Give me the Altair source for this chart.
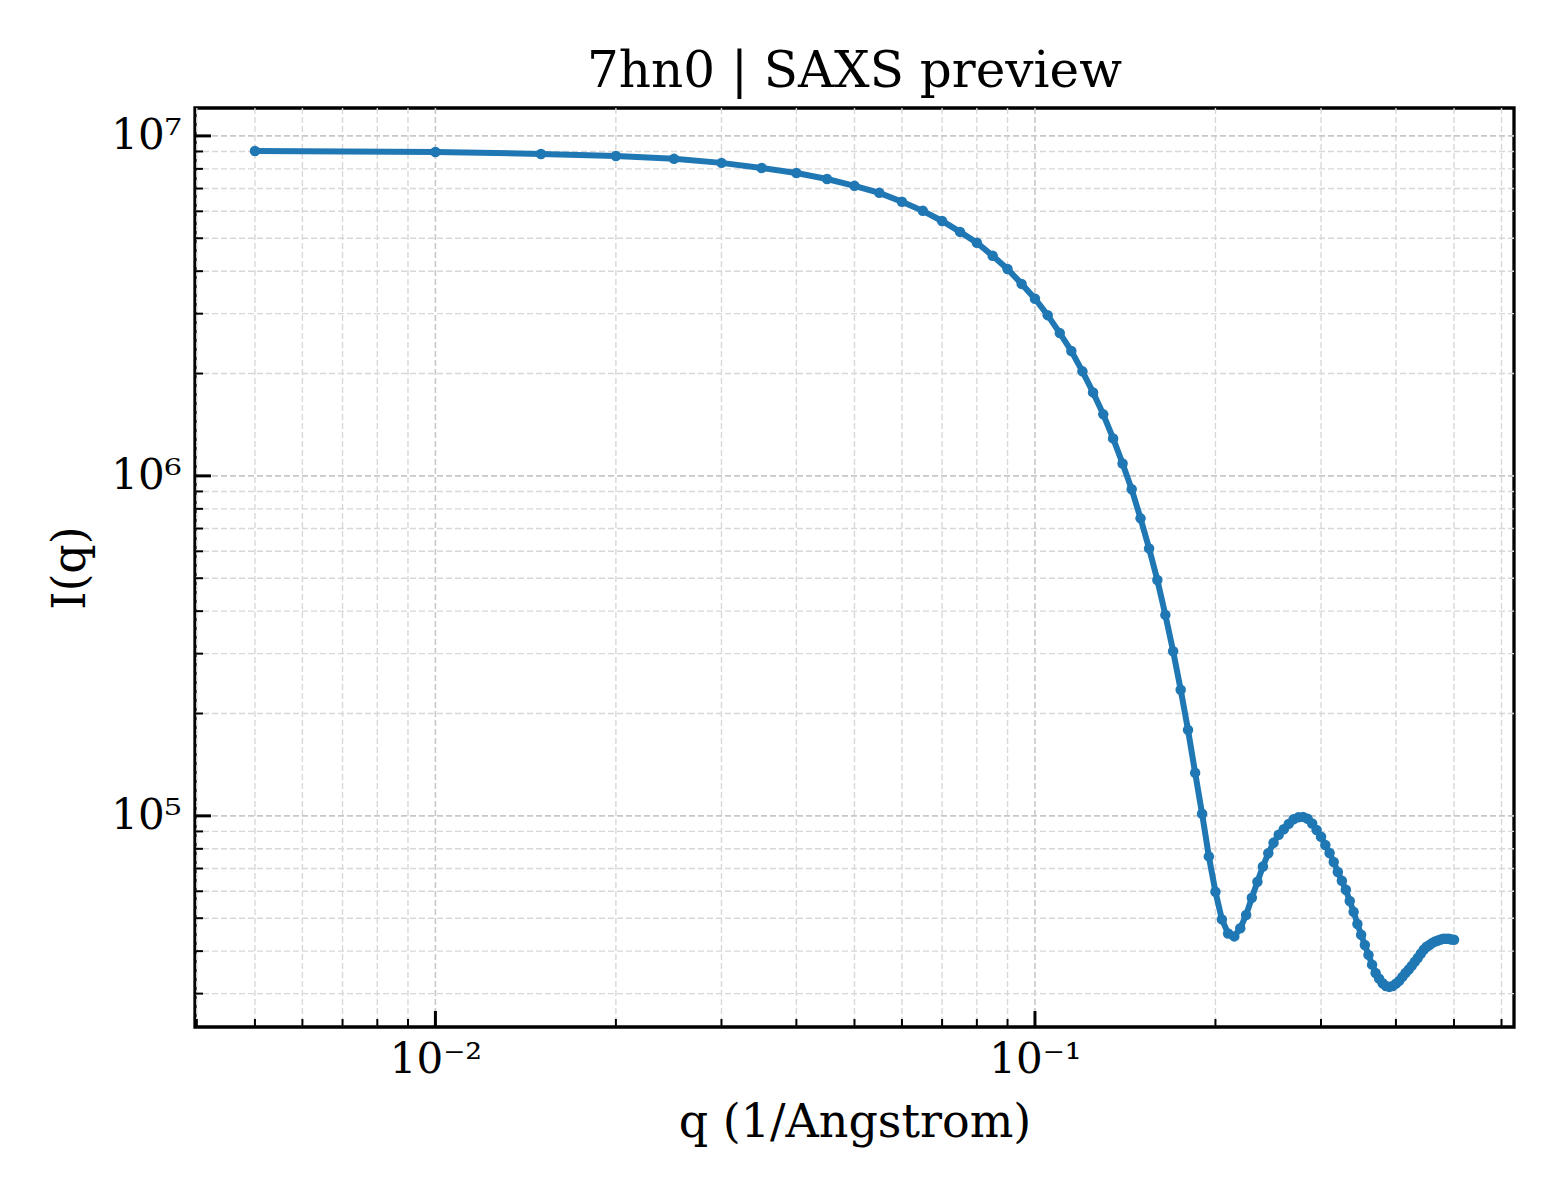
import altair as alt
import pandas as pd

# scattering vector q (1/Angstrom)
q = [0.005, 0.010, 0.015, 0.020, 0.025, 0.030, 0.035, 0.040, 0.045, 0.050,
     0.055, 0.060, 0.065, 0.070, 0.075, 0.080, 0.085, 0.090, 0.095, 0.100,
     0.105, 0.110, 0.115, 0.120, 0.125, 0.130, 0.135, 0.140, 0.145, 0.150,
     0.155, 0.160, 0.165, 0.170, 0.175, 0.180, 0.185, 0.190, 0.195, 0.200,
     0.205, 0.210, 0.215, 0.220, 0.225, 0.230, 0.235, 0.240, 0.245, 0.250,
     0.255, 0.260, 0.265, 0.270, 0.275, 0.280, 0.285, 0.290, 0.295, 0.300,
     0.305, 0.310, 0.315, 0.320, 0.325, 0.330, 0.335, 0.340, 0.345, 0.350,
     0.355, 0.360, 0.365, 0.370, 0.375, 0.380, 0.385, 0.390, 0.395, 0.400,
     0.405, 0.410, 0.415, 0.420, 0.425, 0.430, 0.435, 0.440, 0.445, 0.450,
     0.455, 0.460, 0.465, 0.470, 0.475, 0.480, 0.485, 0.490, 0.495, 0.500]

# intensity I(q)
intensity = [9.03e6, 8.97e6, 8.85e6, 8.73e6, 8.56e6, 8.33e6, 8.05e6, 7.78e6, 7.47e6, 7.13e6,
             6.80e6, 6.40e6, 6.02e6, 5.62e6, 5.22e6, 4.85e6, 4.44e6, 4.06e6, 3.67e6, 3.32e6,
             2.97e6, 2.63e6, 2.33e6, 2.03e6, 1.76e6, 1.517e6, 1.289e6, 1.088e6, 9.13e5, 7.50e5,
             6.12e5, 4.94e5, 3.90e5, 3.05e5, 2.35e5, 1.79e5, 1.338e5, 1.014e5, 7.60e4, 5.98e4,
             4.96e4, 4.51e4, 4.42e4, 4.67e4, 5.11e4, 5.74e4, 6.40e4, 7.10e4, 7.76e4, 8.33e4,
             8.80e4, 9.13e4, 9.47e4, 9.77e4, 9.90e4, 9.93e4, 9.80e4, 9.50e4, 9.09e4, 8.68e4,
             8.21e4, 7.78e4, 7.32e4, 6.84e4, 6.44e4, 6.06e4, 5.62e4, 5.22e4, 4.81e4, 4.47e4,
             4.17e4, 3.90e4, 3.65e4, 3.45e4, 3.32e4, 3.22e4, 3.16e4, 3.14e4, 3.16e4, 3.21e4,
             3.27e4, 3.36e4, 3.45e4, 3.53e4, 3.62e4, 3.72e4, 3.82e4, 3.93e4, 4.04e4, 4.12e4,
             4.17e4, 4.23e4, 4.27e4, 4.30e4, 4.33e4, 4.35e4, 4.35e4, 4.35e4, 4.33e4, 4.32e4]

# tick positions and labels
x_major = [0.01, 0.1]
x_major_labels = ['10⁻²', '10⁻¹']
x_minor = [0.004, 0.005, 0.006, 0.007, 0.008, 0.009,
           0.02, 0.03, 0.04, 0.05, 0.06, 0.07, 0.08, 0.09,
           0.2, 0.3, 0.4, 0.5, 0.6]
y_major = [1e5, 1e6, 1e7]
y_major_labels = ['10⁵', '10⁶', '10⁷']
y_minor = [3e4, 4e4, 5e4, 6e4, 7e4, 8e4, 9e4,
           2e5, 3e5, 4e5, 5e5, 6e5, 7e5, 8e5, 9e5,
           2e6, 3e6, 4e6, 5e6, 6e6, 7e6, 8e6, 9e6]

x_domain = [0.003972, 0.6295]
y_domain = [23930, 1.208e7]

W, H = 1319, 919
FONT = 'DejaVu Serif'
BLUE = '#1f77b4'


def label_expr(values, labels):
    parts = [f"abs(datum.value - {v!r}) < {v * 1e-6!r} ? '{lab}'" for v, lab in zip(values, labels)]
    return ' : '.join(parts) + " : ''"


xs = alt.Scale(type='log', domain=x_domain, nice=False)
ys = alt.Scale(type='log', domain=y_domain, nice=False, zero=False)

x_axis = alt.Axis(values=x_major, labelExpr=label_expr(x_major, x_major_labels),
                  grid=False, ticks=False, domain=False, labelFlush=False,
                  labelFont=FONT, labelFontSize=42, labelColor='black', labelPadding=12,
                  title='q (1/Angstrom)', titleFont=FONT, titleFontSize=46,
                  titleFontWeight='normal', titleColor='black', titlePadding=20)
y_axis = alt.Axis(values=y_major, labelExpr=label_expr(y_major, y_major_labels),
                  grid=False, ticks=False, domain=False, labelFlush=False,
                  labelFont=FONT, labelFontSize=42, labelColor='black', labelPadding=14,
                  title='I(q)', titleFont=FONT, titleFontSize=46,
                  titleFontWeight='normal', titleColor='black', titlePadding=16)

curve = pd.DataFrame({'q': q, 'I': intensity})
xmaj = pd.DataFrame({'q': x_major})
xmin = pd.DataFrame({'q': x_minor})
ymaj = pd.DataFrame({'I': y_major})
ymin = pd.DataFrame({'I': y_minor})

grid_x_major = alt.Chart(xmaj).mark_rule(color='#c8c8c8', strokeWidth=1.6, strokeDash=[6, 3]).encode(
    x=alt.X('q:Q', scale=xs, axis=x_axis))
grid_x_minor = alt.Chart(xmin).mark_rule(color='#d8d8d8', strokeWidth=1.4, strokeDash=[6, 3]).encode(
    x=alt.X('q:Q', scale=xs, axis=x_axis))
grid_y_major = alt.Chart(ymaj).mark_rule(color='#c8c8c8', strokeWidth=1.6, strokeDash=[6, 3]).encode(
    y=alt.Y('I:Q', scale=ys, axis=y_axis))
grid_y_minor = alt.Chart(ymin).mark_rule(color='#d8d8d8', strokeWidth=1.4, strokeDash=[6, 3]).encode(
    y=alt.Y('I:Q', scale=ys, axis=y_axis))

line = alt.Chart(curve).mark_line(
    color=BLUE, strokeWidth=6,
    point=alt.OverlayMarkDef(filled=True, color=BLUE, size=110, opacity=1)
).encode(
    x=alt.X('q:Q', scale=xs, axis=x_axis),
    y=alt.Y('I:Q', scale=ys, axis=y_axis),
)

tick_x_major = alt.Chart(xmaj).mark_rule(color='black', strokeWidth=3).encode(
    x=alt.X('q:Q', scale=xs, axis=x_axis), y=alt.value(H), y2=alt.value(H - 16))
tick_x_minor = alt.Chart(xmin).mark_rule(color='black', strokeWidth=2).encode(
    x=alt.X('q:Q', scale=xs, axis=x_axis), y=alt.value(H), y2=alt.value(H - 8))
tick_y_major = alt.Chart(ymaj).mark_rule(color='black', strokeWidth=3).encode(
    y=alt.Y('I:Q', scale=ys, axis=y_axis), x=alt.value(0), x2=alt.value(16))
tick_y_minor = alt.Chart(ymin).mark_rule(color='black', strokeWidth=2).encode(
    y=alt.Y('I:Q', scale=ys, axis=y_axis), x=alt.value(0), x2=alt.value(8))

chart = alt.layer(
    grid_x_minor, grid_x_major, grid_y_minor, grid_y_major,
    line,
    tick_x_minor, tick_x_major, tick_y_minor, tick_y_major,
).properties(
    width=W,
    height=H,
    title=alt.TitleParams('7hn0 | SAXS preview', font=FONT, fontSize=50, fontWeight='normal',
                          color='black', anchor='middle', baseline='alphabetic', offset=20, dy=50),
    autosize=alt.AutoSizeParams(type='none'),
    padding={'left': 187, 'top': 100, 'right': 20, 'bottom': 150},
    background='white',
).configure_view(
    stroke='black', strokeWidth=3.3
)

chart.save("out.html", embed_options={"renderer": "svg", "actions": False})
